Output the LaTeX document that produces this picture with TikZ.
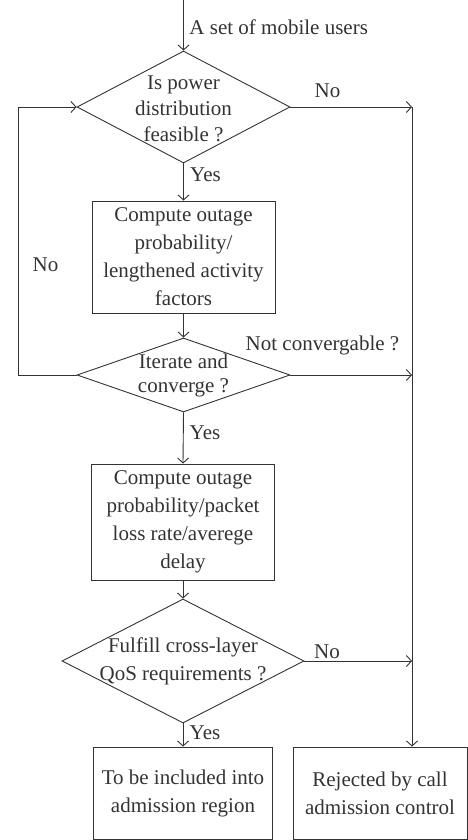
\documentclass[tikz,border=0pt]{standalone}
\usepackage{fontspec}
\setmainfont{Liberation Serif}
\usetikzlibrary{arrows.meta,shapes.geometric}
\definecolor{ink}{HTML}{333333}
\begin{document}
\begin{tikzpicture}[x=1pt,y=-1pt,
  font=\fontsize{21}{28}\selectfont,
  line width=0.9pt, color=ink,
  arr/.style={-{Straight Barb[length=5pt,width=11pt]}},
  box/.style={draw, rectangle, inner sep=0pt, align=center},
  dia/.style={draw, diamond, inner sep=0pt},
  txt/.style={inner sep=0pt, align=center},
  lbl/.style={inner sep=0pt}]
\useasboundingbox (0,0) rectangle (468,840);

% decisions and processes
\node[dia, minimum width=213pt, minimum height=112pt] (d1) at (183.5,107) {};
\node[txt, font=\fontsize{21}{26}\selectfont] (d1t) at (183.5,109) {Is power\\distribution\\feasible ?};
\node[box, minimum width=183pt, minimum height=112pt] (b1) at (183.5,257) {Compute outage\\probability/\\lengthened activity\\factors};
\node[dia, minimum width=213pt, minimum height=74pt] (d2) at (183.5,375) {};
\node[txt, font=\fontsize{21}{24}\selectfont] (d2t) at (183.5,375) {Iterate and\\converge ?};
\node[box, minimum width=183pt, minimum height=116pt] (b2) at (183,522) {Compute outage\\probability/packet\\loss rate/averege\\delay};
\node[dia, minimum width=242pt, minimum height=124pt] (d3) at (183,661) {};
\node[txt] (d3t) at (183,661) {Fulfill cross-layer\\QoS requirements ?};
\node[box, minimum width=179pt, minimum height=92pt] (b3) at (183,793) {To be included into\\admission region};
\node[box, minimum width=174pt, minimum height=92pt] (b4) at (380,793) {Rejected by call\\admission control};

% helper coordinates
\coordinate (start) at (183.5,0);
\coordinate (t1) at (412,107);
\coordinate (l1) at (18,375);
\coordinate (l2) at (18,107);

% connectors
\draw[arr] (start) -- (d1.north);
\draw[arr] (d1.east) -- (t1);
\draw[arr] (t1) -- (t1 |- b4.north);
\draw[arr] (d1.south) -- (b1.north);
\draw[arr] (b1.south) -- (d2.north);
\draw[arr] (d2.east) -- (d2.east -| t1);
\draw[arr] (d2.west) -- (l1) -- (l2) -- (d1.west);
\draw[arr] (d2.south) -- (b2.north);
\draw[arr] (b2.south) -- (d3.north);
\draw[arr] (d3.east) -- (d3.east -| t1);
\draw[arr] (d3.south) -- (b3.north);

% labels
\node[lbl, anchor=west] (ls) at (189,27) {A set of mobile users};
\node[lbl] (ly1) at (205.5,175) {Yes};
\node[lbl] (ln1) at (327.5,91) {No};
\node[lbl] (lnc) at (322.5,345) {Not convergable ?};
\node[lbl] (ln2) at (45.5,265) {No};
\node[lbl] (ly2) at (205,433) {Yes};
\node[lbl] (ln3) at (327,652) {No};
\node[lbl] (ly3) at (205,733) {Yes};
\end{tikzpicture}
\end{document}
